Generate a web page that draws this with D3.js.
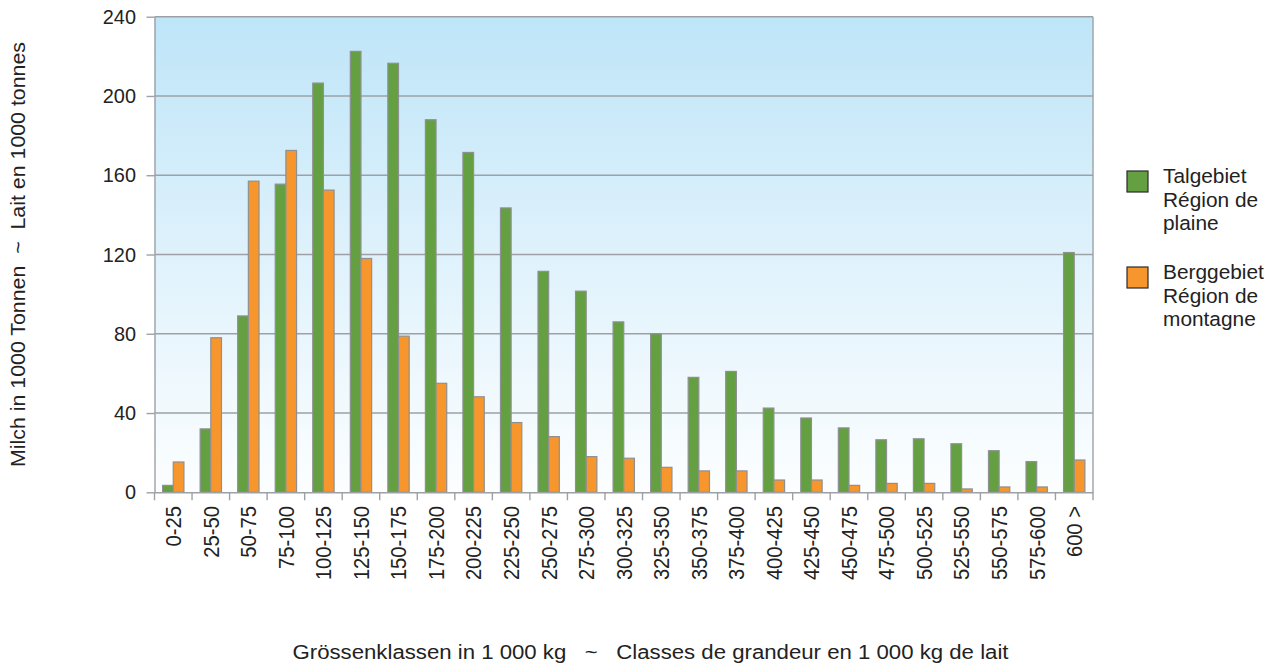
<!DOCTYPE html>
<html>
<head>
<meta charset="utf-8">
<script src="https://cdn.jsdelivr.net/npm/d3@7"></script>
<style>
  html, body { margin: 0; padding: 0; background: #fff; }
  svg { display: block; }
  text { font-family: "Liberation Sans", Arial, Helvetica, sans-serif; fill: #222; }
</style>
</head>
<body>
<svg id="chart" width="1280" height="666"></svg>
<script>
const categories = ["0-25","25-50","50-75","75-100","100-125","125-150","150-175","175-200","200-225","225-250","250-275","275-300","300-325","325-350","350-375","375-400","400-425","425-450","450-475","475-500","500-525","525-550","550-575","575-600","600 >"];
const talgebiet = [3.5, 32, 89, 155.5, 206.5, 222.5, 216.5, 188, 171.5, 143.5, 111.5, 101.5, 86, 80, 58, 61, 42.5, 37.5, 32.5, 26.5, 27, 24.5, 21, 15.5, 121];
const berggebiet = [15.3, 78, 157, 172.5, 152.5, 118, 78.8, 55, 48.2, 35.2, 28.1, 18, 17.2, 12.6, 10.8, 10.8, 6.2, 6.2, 3.5, 4.5, 4.5, 1.7, 2.7, 2.7, 16.3];
const yTicks = [0, 40, 80, 120, 160, 200, 240];
const seriesNames = ["Talgebiet", "Berggebiet"];
const legendLabels = [["Talgebiet", "Région de", "plaine"], ["Berggebiet", "Région de", "montagne"]];
const yTitle = "Milch in 1000 Tonnen  ~  Lait en 1000 tonnes";
const xTitle = "Grössenklassen in 1 000 kg   ~   Classes de grandeur en 1 000 kg de lait";

const colors = { Talgebiet: "#64a042", Berggebiet: "#f6962c" };

const svg = d3.select("#chart");
const pLeft = 154.5, pRight = 1093, pTop = 16.7, pBottom = 492.3;

const x = d3.scaleBand().domain(categories).range([pLeft, pRight]).paddingInner(0).paddingOuter(0);
const xs = d3.scaleBand().domain(seriesNames).range([0, x.bandwidth()]).paddingInner(0).paddingOuter(0.76);
const y = d3.scaleLinear().domain([0, 240]).range([pBottom, pTop]);

// background gradient
const defs = svg.append("defs");
const grad = defs.append("linearGradient").attr("id", "bg").attr("x1", 0).attr("y1", 0).attr("x2", 0).attr("y2", 1);
grad.append("stop").attr("offset", "0%").attr("stop-color", "#bee5f8");
grad.append("stop").attr("offset", "55%").attr("stop-color", "#e2f3fc");
grad.append("stop").attr("offset", "100%").attr("stop-color", "#fcfeff");

svg.append("rect").attr("x", pLeft).attr("y", pTop).attr("width", pRight - pLeft).attr("height", pBottom - pTop)
  .attr("fill", "url(#bg)");

// gridlines
svg.append("g").selectAll("line").data(yTicks.filter(d => d > 0)).join("line")
  .attr("x1", pLeft).attr("x2", pRight).attr("y1", d => y(d)).attr("y2", d => y(d))
  .attr("stroke", "#9da1a5").attr("stroke-width", 1.4);

// right border
svg.append("line").attr("x1", pRight).attr("x2", pRight).attr("y1", pTop).attr("y2", pBottom)
  .attr("stroke", "#9da1a5").attr("stroke-width", 1.4);

// bars
const data = categories.map((c, i) => ({ c, vals: [{ s: "Talgebiet", v: talgebiet[i] }, { s: "Berggebiet", v: berggebiet[i] }] }));
const groups = svg.append("g").selectAll("g").data(data).join("g")
  .attr("transform", d => `translate(${x(d.c)},0)`);
groups.selectAll("rect").data(d => d.vals).join("rect")
  .attr("x", d => xs(d.s)).attr("width", xs.bandwidth())
  .attr("y", d => y(d.v)).attr("height", d => y(0) - y(d.v))
  .attr("fill", d => colors[d.s]).attr("stroke", "#8e9091").attr("stroke-width", 1.2);

// y axis
const yAxis = svg.append("g").attr("transform", `translate(${pLeft},0)`)
  .call(d3.axisLeft(y).tickValues(yTicks).tickSize(8).tickSizeOuter(0).tickFormat(""));
yAxis.selectAll("line").attr("stroke", "#9da1a5").attr("stroke-width", 1.4);
yAxis.select(".domain").attr("stroke", "#9da1a5").attr("stroke-width", 1.4);

svg.append("g").selectAll("text").data(yTicks).join("text")
  .attr("transform", d => `translate(136,${y(d)}) scale(1.02,1)`)
  .attr("text-anchor", "end").attr("dy", "0.36em").attr("font-size", 19.5)
  .text(d => d);

// x axis
const xAxis = svg.append("g").attr("transform", `translate(0,${pBottom})`)
  .call(d3.axisBottom(x).tickSize(0).tickFormat(""));
xAxis.select(".domain").attr("stroke", "#9da1a5").attr("stroke-width", 1.4);
svg.append("g").selectAll("line").data(categories.concat(["end"])).join("line")
  .attr("x1", (d, i) => pLeft + i * x.step()).attr("x2", (d, i) => pLeft + i * x.step())
  .attr("y1", pBottom).attr("y2", pBottom + 8)
  .attr("stroke", "#9da1a5").attr("stroke-width", 1.4);

svg.append("g").selectAll("text").data(categories).join("text")
  .attr("transform", d => `translate(${x(d) + x.bandwidth() / 2},506) scale(1.08,1) rotate(-90)`)
  .attr("text-anchor", "end").attr("dy", "0.36em").attr("font-size", 20.2)
  .text(d => d);

// axis titles
svg.append("text")
  .attr("transform", `translate(18,254.5) rotate(-90)`)
  .attr("text-anchor", "middle").attr("dy", "0.36em").attr("font-size", 20)
  .attr("textLength", 425).attr("lengthAdjust", "spacingAndGlyphs")
  .style("white-space", "pre").attr("xml:space", "preserve")
  .text(yTitle);

svg.append("text")
  .attr("transform", `translate(650.5,658.5)`)
  .attr("text-anchor", "middle").attr("font-size", 19.5)
  .attr("textLength", 716).attr("lengthAdjust", "spacingAndGlyphs")
  .style("white-space", "pre").attr("xml:space", "preserve")
  .text(xTitle);

// legend
const legendY = [171, 267];
const lg = svg.append("g").selectAll("g").data(seriesNames).join("g")
  .attr("transform", (d, i) => `translate(1127,${legendY[i]})`);
lg.append("rect").attr("width", 21).attr("height", 21)
  .attr("fill", d => colors[d]).attr("stroke", "#2b2b2b").attr("stroke-width", 1.2);
lg.each(function (d, i) {
  const g = d3.select(this);
  legendLabels[i].forEach((line, j) => {
    g.append("text")
      .attr("transform", `translate(36,${12.3 + j * 23.5}) scale(1.07,1)`)
      .attr("font-size", 19.5).text(line);
  });
});
</script>
</body>
</html>
